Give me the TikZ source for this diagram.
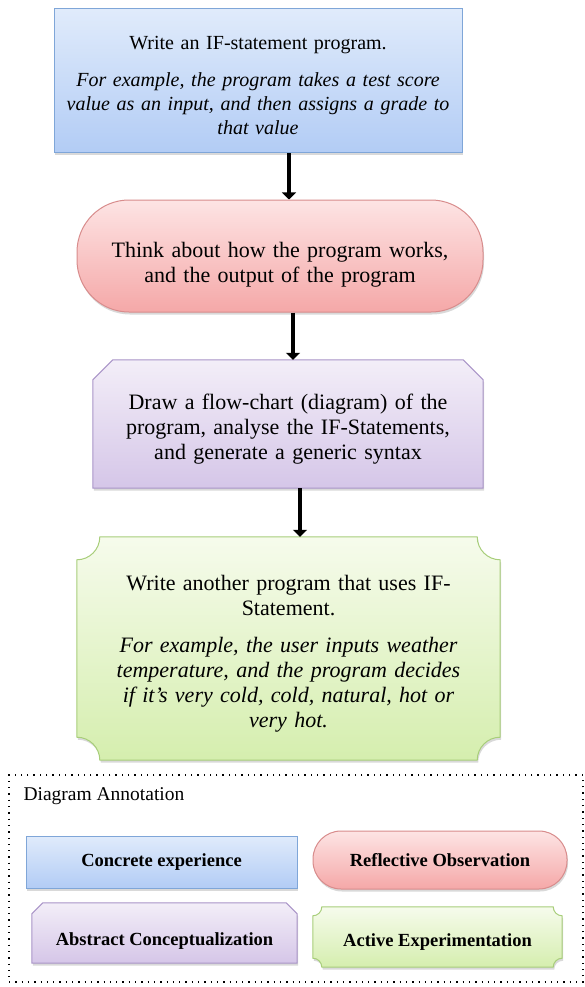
\documentclass[tikz,border=0pt]{standalone}
\usepackage{fontspec}
\setmainfont{Liberation Serif}
\usetikzlibrary{arrows.meta, shadows, backgrounds}

\definecolor{ceTop}{HTML}{E0EBFB}
\definecolor{ceBot}{HTML}{B2CCF5}
\definecolor{ceLine}{HTML}{7FA6D8}
\definecolor{roTop}{HTML}{FDE4E4}
\definecolor{roBot}{HTML}{F5A8A8}
\definecolor{roLine}{HTML}{D88C8C}
\definecolor{acTop}{HTML}{F3EEF8}
\definecolor{acBot}{HTML}{D5C6E8}
\definecolor{acLine}{HTML}{A994C8}
\definecolor{aeTop}{HTML}{F6FBEC}
\definecolor{aeBot}{HTML}{D5EEAE}
\definecolor{aeLine}{HTML}{A8CE7A}

% top corners cut off
\newcommand{\snipbox}[3]{%
  \draw[#3] ([yshift=-#2]#1.north west) -- ([xshift=#2]#1.north west)
    -- ([xshift=-#2]#1.north east) -- ([yshift=-#2]#1.north east)
    -- (#1.south east) -- (#1.south west) -- cycle;}
% all corners cut inwards
\newcommand{\plaquebox}[3]{%
  \draw[#3] ([xshift=#2]#1.north west) -- ([xshift=-#2]#1.north east)
    arc[start angle=180, end angle=270, radius=#2]
    -- ([yshift=#2]#1.south east)
    arc[start angle=90, end angle=180, radius=#2]
    -- ([xshift=#2]#1.south west)
    arc[start angle=0, end angle=90, radius=#2]
    -- ([yshift=-#2]#1.north west)
    arc[start angle=270, end angle=360, radius=#2] -- cycle;}
% pushes the text of a box down
\newcommand{\lift}[1]{\rule{0pt}{#1}}

\begin{document}
\begin{tikzpicture}[x=1pt, y=1pt,
    shade/.style={drop shadow={shadow xshift=1pt, shadow yshift=-2.5pt, opacity=.3}},
    txt/.style={font=\fontsize{20}{24}\selectfont, align=center},
    big/.style={font=\fontsize{22}{25}\selectfont, align=center},
    key/.style={font=\fontsize{18.5}{21}\selectfont\bfseries, align=center},
    ce/.style={draw=ceLine, line width=1pt, top color=ceTop, bottom color=ceBot, shade},
    ro/.style={draw=roLine, line width=1pt, top color=roTop, bottom color=roBot, shade},
    ac/.style={draw=acLine, line width=1pt, top color=acTop, bottom color=acBot, shade},
    ae/.style={draw=aeLine, line width=1pt, top color=aeTop, bottom color=aeBot, shade},
    flow/.style={line width=4.5pt, -{Triangle[width=14pt, length=7pt]}}]
    \useasboundingbox (0,0) rectangle (585,-987);

    \node[ce, txt, minimum width=408, minimum height=144, text width=390] (write) at (258,-81)
        {\lift{22pt}Write an IF-statement program.\\[13pt]
         \itshape For example, the program takes a test score\\
         value as an input, and then assigns a grade to\\
         that value};
    \node[ro, big, rounded corners=52, minimum width=406, minimum height=112, text width=390] (think) at (280,-256)
        {\lift{33pt}Think about how the program works,\\and the output of the program};
    \node[big, minimum width=390, minimum height=128, text width=370] (chart) at (288,-424)
        {\lift{25.5pt}Draw a flow-chart (diagram) of the\\
         program, analyse the IF-Statements,\\
         and generate a generic syntax};
    \node[big, minimum width=423, minimum height=223, text width=400] (again) at (288.5,-648.5)
        {\lift{25pt}Write another program that uses IF-\\Statement.\\[12pt]
         \itshape For example, the user inputs weather\\
         temperature, and the program decides\\
         if it’s very cold, cold, natural, hot or\\
         very hot.};

    \draw[flow] ([xshift=31pt]write.south) -- ([xshift=9pt]think.north);
    \draw[flow] ([xshift=13pt]think.south) -- ([xshift=5pt]chart.north);
    \draw[flow] ([xshift=12pt]chart.south) -- ([xshift=11.5pt]again.north);

    \node[draw, line width=1.3pt, dash pattern=on 1.3pt off 5pt, minimum width=574, minimum height=207] (legend) at (296,-878.5) {};
    \node[anchor=west, font=\fontsize{19.5}{22}\selectfont] (title) at (20,-796) {Diagram Annotation};

    \node[ce, key, minimum width=271, minimum height=52] (cekey) at (161.5,-862) {Concrete experience};
    \node[ro, key, rounded corners=28, minimum width=254, minimum height=58] (rokey) at (440,-860) {Reflective Observation};
    \node[key, minimum width=265, minimum height=60] (ackey) at (164.5,-933) {\lift{28.5pt}Abstract Conceptualization};
    \node[key, minimum width=249, minimum height=60] (aekey) at (437.5,-937) {\lift{22.5pt}Active Experimentation};

    \begin{scope}[on background layer]
        \snipbox{chart}{20pt}{ac}
        \plaquebox{again}{23pt}{ae}
        \snipbox{ackey}{11pt}{ac}
        \plaquebox{aekey}{9pt}{ae}
    \end{scope}
\end{tikzpicture}
\end{document}
